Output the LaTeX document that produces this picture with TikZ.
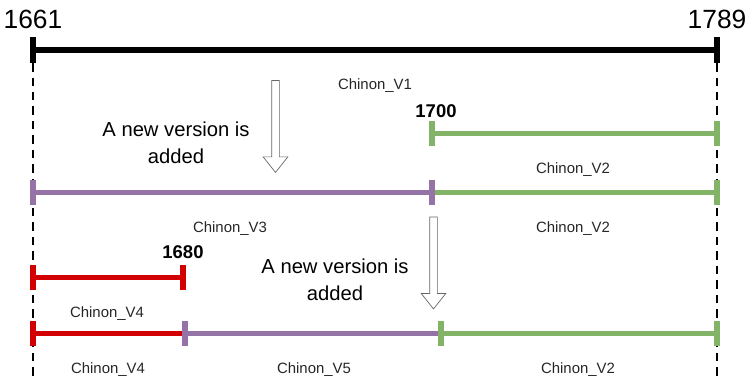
\documentclass[tikz,border=0pt]{standalone}
\usepackage{fontspec}
\setmainfont{Liberation Sans}
\usetikzlibrary{shapes.arrows}
\definecolor{vgreen}{HTML}{82B366}
\definecolor{vpurple}{HTML}{9673A6}
\definecolor{vred}{RGB}{210,0,0}
\tikzset{
  tick/.style={rectangle,fill=#1,inner sep=0,outer sep=0,minimum width=0.11cm,minimum height=0.5cm},
  span/.style={draw=#1,line width=0.1cm},
  guide/.style={draw=black,line width=0.055cm,dash pattern=on 0.17cm off 0.12cm},
  year/.style={anchor=base,font=\fontsize{15}{18}\selectfont},
  date/.style={anchor=base,font=\bfseries\fontsize{10.5}{12}\selectfont},
  version/.style={anchor=base,font=\fontsize{8.5}{10}\selectfont,text=black!85},
  note/.style={align=center,font=\fontsize{11.5}{15.3}\selectfont},
  newarrow/.style={single arrow,draw=black!60,fill=white,shape border rotate=270,
    minimum height=1.84cm,inner sep=0.07cm,single arrow head extend=0.17cm,
    single arrow tip angle=77,single arrow head indent=0}
}

\begin{document}
\begin{tikzpicture}[x=0.02cm,y=-0.02cm]
	\useasboundingbox (0,0) rectangle (749,380);
	\node[tick=black,minimum height=0.52cm] (s0) at (33,50) {};
	\node[tick=black,minimum height=0.52cm] (e0) at (717,50) {};
	\coordinate (s9) at (33,380);
	\coordinate (e9) at (717,380);
	\draw[guide] (s0.south) -- (s9);
	\draw[guide] (e0.south) -- (e9);
	\draw[draw=black,line width=0.11cm] (s0) -- (e0);
	\node[year] (y1661) at (33,28) {1661};
	\node[year] (y1789) at (717,28) {1789};
	\node[tick=vgreen] (a1) at (432,133) {};
	\node[tick=vgreen] (a2) at (717,133) {};
	\draw[span=vgreen] (a1) -- (a2);
	\node[tick=vpurple] (b1) at (33,192) {};
	\node[tick=vpurple] (b2) at (432,192) {};
	\node[tick=vgreen] (b3) at (717,192) {};
	\draw[span=vpurple] (b1) -- (b2);
	\draw[span=vgreen] (b2) -- (b3);
	\node[tick=vred] (c1) at (33,277) {};
	\node[tick=vred] (c2) at (183,277) {};
	\draw[span=vred] (c1) -- (c2);
	\node[tick=vred] (d1) at (33,333) {};
	\node[tick=vpurple] (d2) at (185,333) {};
	\node[tick=vgreen] (d3) at (441,333) {};
	\node[tick=vgreen] (d4) at (717,333) {};
	\draw[span=vred] (d1) -- (d2);
	\draw[span=vpurple] (d2) -- (d3);
	\draw[span=vgreen] (d3) -- (d4);
	\node[version] (v1) at (375,89) {Chinon\_V1};
	\node[date] (t1700) at (436,117) {1700};
	\node[version] (v2a) at (573,173) {Chinon\_V2};
	\node[version] (v3) at (230,232) {Chinon\_V3};
	\node[version] (v2b) at (573,232) {Chinon\_V2};
	\node[date] (t1680) at (183,258) {1680};
	\node[version] (v4a) at (107,317) {Chinon\_V4};
	\node[version] (v4b) at (108,373) {Chinon\_V4};
	\node[version] (v5) at (314,373) {Chinon\_V5};
	\node[version] (v2c) at (578,373) {Chinon\_V2};
	\node[note] (n1) at (176,143) {A new version is\\added};
	\node[note] (n2) at (335,280) {A new version is\\added};
	\node[newarrow] (r1) at (275.5,124) {};
	\node[newarrow] (r2) at (433.5,260.5) {};
\end{tikzpicture}
\end{document}
